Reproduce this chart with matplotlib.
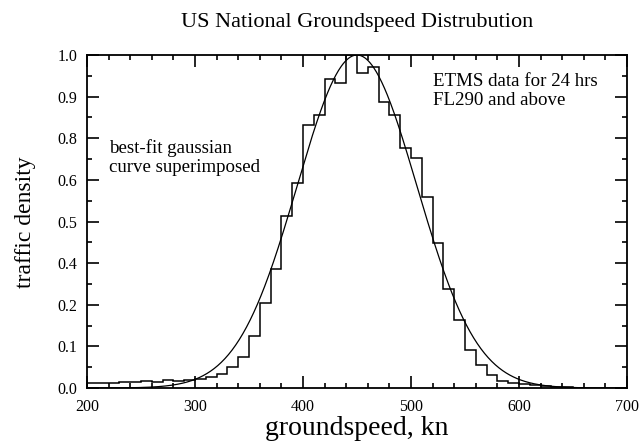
import numpy as np
import matplotlib
matplotlib.use("Agg")
import matplotlib.pyplot as plt
from matplotlib.ticker import MultipleLocator, FixedLocator

plt.rcParams['font.family'] = ['Liberation Serif', 'DejaVu Serif']

# ---- data ----
bin_edges = list(range(200, 670, 10))
hist_values = [0.014, 0.014, 0.016, 0.017, 0.018, 0.020, 0.019, 0.023, 0.022, 0.024,
               0.027, 0.033, 0.043, 0.064, 0.093, 0.157, 0.256, 0.357, 0.517, 0.615,
               0.790, 0.820, 0.927, 0.915, 1.000, 0.945, 0.965, 0.860, 0.820, 0.720,
               0.690, 0.575, 0.435, 0.297, 0.205, 0.113, 0.069, 0.040, 0.022, 0.015,
               0.012, 0.008, 0.005, 0.003, 0.002, 0.001]
gauss_mean = 450.0
gauss_sigma = 55.5
gauss_peak = 1.0
ytick_values = [0.0, 0.125, 0.25, 0.375, 0.5, 0.625, 0.75, 0.875, 1.0]
ytick_labels = ['0.0', '0.1', '0.2', '0.4', '0.5', '0.6', '0.8', '0.9', '1.0']
xtick_values = [200, 300, 400, 500, 600, 700]
xtick_labels = ['200', '300', '400', '500', '600', '700']

fig = plt.figure(figsize=(6.39, 4.42), dpi=100)
ax = fig.add_axes([87/639, 1-388/442, 540/639, 333/442])

ax.stairs(hist_values, bin_edges, color='black', linewidth=1.1)
xs = np.linspace(200, 700, 600)
ax.plot(xs, gauss_peak*np.exp(-(xs-gauss_mean)**2/(2*gauss_sigma**2)),
        color='black', linewidth=0.9)

ax.set_xlim(200, 700)
ax.set_ylim(0, 1.0)
ax.xaxis.set_major_locator(FixedLocator(xtick_values))
ax.set_xticklabels(xtick_labels)
ax.xaxis.set_minor_locator(MultipleLocator(20))
ax.yaxis.set_major_locator(FixedLocator(ytick_values))
ax.set_yticklabels(ytick_labels)
ax.yaxis.set_minor_locator(MultipleLocator(0.0625))

ax.tick_params(which='both', direction='in', top=True, right=True,
               labelsize=11.5, width=1.2, colors='black')
ax.tick_params(axis='x', which='major', length=8.5, pad=8)
ax.tick_params(axis='y', which='major', length=8.5, pad=7)
ax.tick_params(which='minor', length=3.5)
for s in ax.spines.values():
    s.set_linewidth(1.3)

fig.text(357/639, 1-27/442, 'US National Groundspeed Distrubution',
         ha='center', va='baseline', fontsize=16)
fig.text(357/639, 1-435/442, 'groundspeed, kn', ha='center', va='baseline', fontsize=20)
fig.text(25/639, 1-222/442, 'traffic density', ha='center', va='center',
         rotation=90, fontsize=17)

fig.text(109/639, 1-153/442, 'best-fit gaussian', ha='left', va='baseline', fontsize=13.6)
fig.text(109/639, 1-172/442, 'curve superimposed', ha='left', va='baseline', fontsize=13.6)
fig.text(433/639, 1-86/442, 'ETMS data for 24 hrs', ha='left', va='baseline', fontsize=13.6)
fig.text(433/639, 1-105/442, 'FL290 and above', ha='left', va='baseline', fontsize=13.6)

fig.savefig('out.png', dpi=100)
